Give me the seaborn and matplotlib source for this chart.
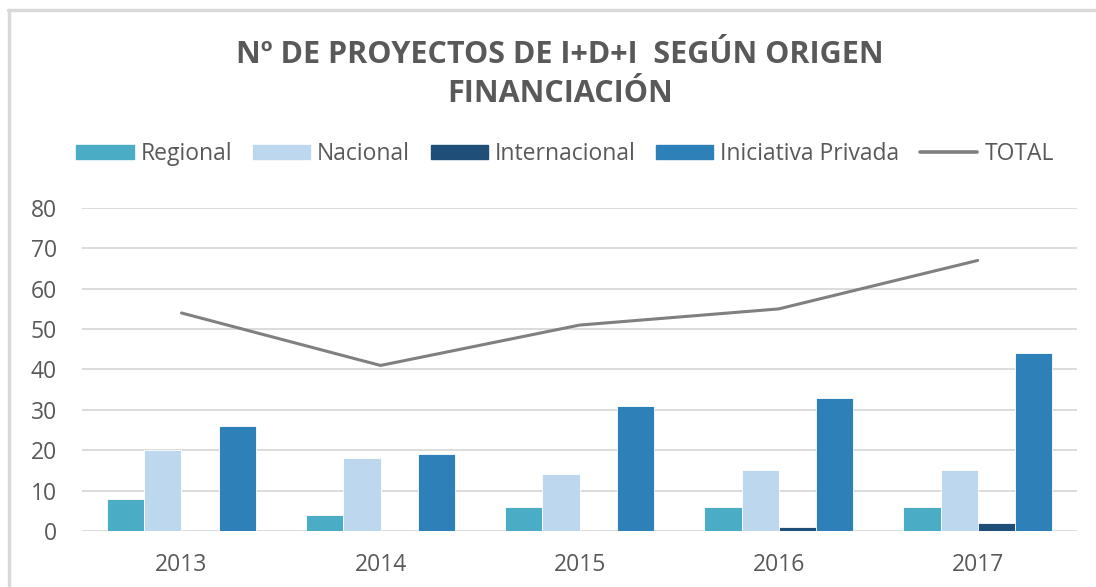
import numpy as np
import pandas as pd
import matplotlib
matplotlib.use('Agg')
import matplotlib.pyplot as plt
import matplotlib.patches as mpatches
from matplotlib.lines import Line2D
import seaborn as sns

# Datos
years = ['2013', '2014', '2015', '2016', '2017']
regional = [8, 4, 6, 6, 6]
nacional = [20, 18, 14, 15, 15]
internacional = [0, 0, 0, 1, 2]
privada = [26, 19, 31, 33, 44]
total = [54, 41, 51, 55, 67]

series = ['Regional', 'Nacional', 'Internacional', 'Iniciativa Privada']
colores = ['#4BACC6', '#BDD7EE', '#1F4E79', '#2E80B8']
gris = '#595959'

df = pd.DataFrame({
    'year': years * 4,
    'serie': np.repeat(series, len(years)),
    'valor': regional + nacional + internacional + privada,
})

sns.set_style('white')
plt.rcParams['font.family'] = ['Open Sans', 'DejaVu Sans']

fig = plt.figure(figsize=(10.96, 5.87), dpi=100)
ax = fig.add_axes([0.0748, 0.0954, 0.908, 0.5503])

sns.barplot(data=df, x='year', y='valor', hue='serie', hue_order=series,
            palette=colores, saturation=1, width=0.745, gap=0,
            edgecolor='white', linewidth=0.6, ax=ax, legend=False, zorder=3)
sns.lineplot(x=np.arange(len(years)), y=total, color='#808080', linewidth=2.2,
             ax=ax, zorder=4)

ax.set_ylim(0, 80)
ax.set_xlim(-0.5, len(years) - 0.5)
ax.set_yticks(range(0, 81, 10))
ax.yaxis.grid(True, color='#D9D9D9', linewidth=1.3)
ax.set_axisbelow(True)
for s in ax.spines.values():
    s.set_visible(False)
ax.set_xlabel('')
ax.set_ylabel('')
ax.tick_params(axis='both', length=0, labelsize=16.5, labelcolor=gris)
ax.tick_params(axis='y', pad=18)
ax.tick_params(axis='x', pad=16)

fig.text(0.511, 0.873, 'Nº DE PROYECTOS DE I+D+I  SEGÚN ORIGEN\nFINANCIACIÓN',
         ha='center', va='center', fontsize=22, fontweight='bold', color=gris,
         linespacing=1.38)

handles = [mpatches.Patch(color=c, label=s) for s, c in zip(series, colores)]
handles.append(Line2D([], [], color='#808080', linewidth=2.6, label='TOTAL'))
leg = fig.legend(handles=handles, loc='center', bbox_to_anchor=(0.5155, 0.738),
                 ncol=5, frameon=False, handlelength=2.5, handleheight=0.55,
                 handletextpad=0.3, columnspacing=0.9,
                 prop={'size': 16.5})
for t in leg.get_texts():
    t.set_color(gris)

# borde del gráfico
fig.add_artist(Line2D([0.007, 1.0], [0.983, 0.983], color='#D9D9D9',
                      linewidth=2.5, transform=fig.transFigure))
fig.add_artist(Line2D([0.008, 0.008], [0.0, 0.983], color='#D9D9D9',
                      linewidth=2.5, transform=fig.transFigure))

fig.savefig('out.png', dpi=100)
